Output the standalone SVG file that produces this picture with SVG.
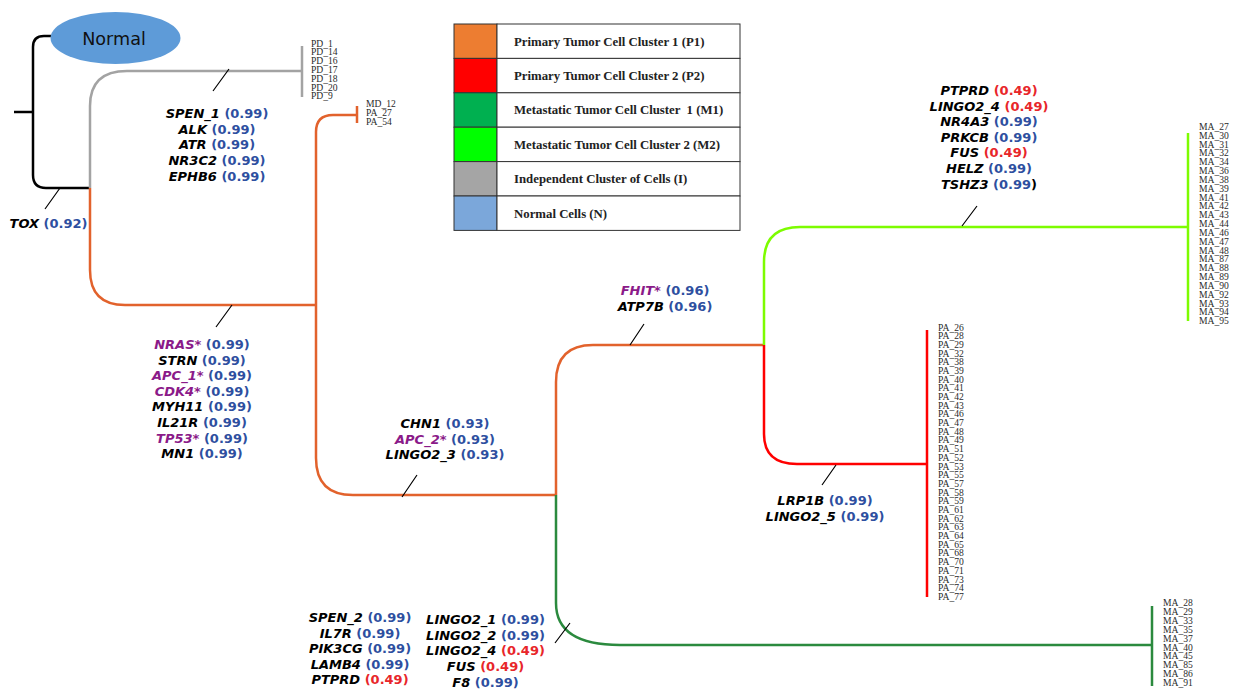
<svg xmlns="http://www.w3.org/2000/svg" width="1233" height="689" viewBox="0 0 1233 689">
<style>
.br{fill:none;stroke-width:2.5;stroke-linecap:butt}
.k{stroke:#000}.gy{stroke:#a3a3a3}.or{stroke:#e2622c}.rd{stroke:#ff0000}.lg{stroke:#7dfc00}.dg{stroke:#2b8a3e}
.tk{stroke:#000;stroke-width:1.2}
.lab{font-family:"DejaVu Sans",sans-serif;font-size:13px;font-weight:bold;text-anchor:middle}
.g{font-style:italic;fill:#000}.p{font-style:italic;fill:#8b1a89}.b{fill:#2e4fa0}.r{fill:#e8262a}
.leaf{font-family:"Liberation Serif",serif;font-size:9.6px;fill:#2a2a2a}
.lgt{font-family:"Liberation Serif",serif;font-size:12.8px;font-weight:bold;fill:#222}
.cell{stroke:#333;stroke-width:1}
</style>
<rect width="1233" height="689" fill="#fff"/>
<g id="connectors">
<path class="br k" d="M14,112 H33"/>
<path class="br k" d="M51,36 H44 Q33,36 33,47 V175 Q33,188 46,188 H90"/>
<path class="br gy" d="M90,188 V106 Q90,71 127,71 H302"/>
<path class="br or" d="M90,188 V270 Q90,305 125,305 H316"/>
<path class="br or" d="M316,305 V132 Q316,115 333,115 H357"/>
<path class="br or" d="M316,305 V458 Q316,495 353,495 H556"/>
<path class="br or" d="M556,495 V382 Q556,345 593,345 H764"/>
<path class="br dg" d="M556,495 V603 C556,630 575,645 620,645 H1152"/>
<path class="br lg" d="M764,345 V262 Q764,227 800,227 H1188"/>
<path class="br rd" d="M764,345 V434 Q764,464 797,464 H927"/>
<path class="tk" d="M45,209 L60,188 M213,91 L229,69 M216,327 L232,305 M402,497 L417,475 M555,643 L570,623 M630,345 L644,324 M822,485 L836,465 M962,226 L977,206"/>
</g>
<g id="node-normal">
<ellipse cx="115.5" cy="38" rx="65" ry="26" fill="#5e9bd8"/>
<text x="114" y="45" font-family="DejaVu Sans,sans-serif" font-size="17.6" fill="#111" text-anchor="middle">Normal</text>
</g>
<g id="node-PD">
<path class="br gy" d="M302,46 V97"/>
<text class="leaf" x="311"><tspan x="311" y="46.5">PD_1</tspan><tspan x="311" y="55.3">PD_14</tspan><tspan x="311" y="64.1">PD_16</tspan><tspan x="311" y="72.9">PD_17</tspan><tspan x="311" y="81.7">PD_18</tspan><tspan x="311" y="90.5">PD_20</tspan><tspan x="311" y="99.3">PD_9</tspan></text>
</g>
<g id="node-MD">
<path class="br or" d="M357,106 V123"/>
<text class="leaf"><tspan x="366" y="106.5">MD_12</tspan><tspan x="366" y="115.5">PA_27</tspan><tspan x="366" y="124.5">PA_54</tspan></text>
</g>
<g id="node-MA-top">
<path class="br lg" d="M1188,133 V321"/>
<text class="leaf"><tspan x="1199" y="130">MA_27</tspan><tspan x="1199" y="138.83">MA_30</tspan><tspan x="1199" y="147.66">MA_31</tspan><tspan x="1199" y="156.49">MA_32</tspan><tspan x="1199" y="165.32">MA_34</tspan><tspan x="1199" y="174.15">MA_36</tspan><tspan x="1199" y="182.98">MA_38</tspan><tspan x="1199" y="191.81">MA_39</tspan><tspan x="1199" y="200.64">MA_41</tspan><tspan x="1199" y="209.47">MA_42</tspan><tspan x="1199" y="218.3">MA_43</tspan><tspan x="1199" y="227.13">MA_44</tspan><tspan x="1199" y="235.96">MA_46</tspan><tspan x="1199" y="244.79">MA_47</tspan><tspan x="1199" y="253.62">MA_48</tspan><tspan x="1199" y="262.45">MA_87</tspan><tspan x="1199" y="271.28">MA_88</tspan><tspan x="1199" y="280.11">MA_89</tspan><tspan x="1199" y="288.94">MA_90</tspan><tspan x="1199" y="297.77">MA_92</tspan><tspan x="1199" y="306.6">MA_93</tspan><tspan x="1199" y="315.43">MA_94</tspan><tspan x="1199" y="324.26">MA_95</tspan></text>
</g>
<g id="node-PA">
<path class="br rd" d="M927,330 V597"/>
<text class="leaf"><tspan x="938" y="330.5">PA_26</tspan><tspan x="938" y="339.19">PA_28</tspan><tspan x="938" y="347.88">PA_29</tspan><tspan x="938" y="356.57">PA_32</tspan><tspan x="938" y="365.26">PA_38</tspan><tspan x="938" y="373.95">PA_39</tspan><tspan x="938" y="382.64">PA_40</tspan><tspan x="938" y="391.33">PA_41</tspan><tspan x="938" y="400.02">PA_42</tspan><tspan x="938" y="408.71">PA_43</tspan><tspan x="938" y="417.4">PA_46</tspan><tspan x="938" y="426.09">PA_47</tspan><tspan x="938" y="434.78">PA_48</tspan><tspan x="938" y="443.47">PA_49</tspan><tspan x="938" y="452.16">PA_51</tspan><tspan x="938" y="460.85">PA_52</tspan><tspan x="938" y="469.54">PA_53</tspan><tspan x="938" y="478.23">PA_55</tspan><tspan x="938" y="486.92">PA_57</tspan><tspan x="938" y="495.61">PA_58</tspan><tspan x="938" y="504.3">PA_59</tspan><tspan x="938" y="512.99">PA_61</tspan><tspan x="938" y="521.68">PA_62</tspan><tspan x="938" y="530.37">PA_63</tspan><tspan x="938" y="539.06">PA_64</tspan><tspan x="938" y="547.75">PA_65</tspan><tspan x="938" y="556.44">PA_68</tspan><tspan x="938" y="565.13">PA_70</tspan><tspan x="938" y="573.82">PA_71</tspan><tspan x="938" y="582.51">PA_73</tspan><tspan x="938" y="591.2">PA_74</tspan><tspan x="938" y="599.89">PA_77</tspan></text>
</g>
<g id="node-MA-bottom">
<path class="br dg" d="M1152,606 V686"/>
<text class="leaf"><tspan x="1163" y="606">MA_28</tspan><tspan x="1163" y="614.9">MA_29</tspan><tspan x="1163" y="623.8">MA_33</tspan><tspan x="1163" y="632.7">MA_35</tspan><tspan x="1163" y="641.6">MA_37</tspan><tspan x="1163" y="650.5">MA_40</tspan><tspan x="1163" y="659.4">MA_45</tspan><tspan x="1163" y="668.3">MA_85</tspan><tspan x="1163" y="677.2">MA_86</tspan><tspan x="1163" y="686.1">MA_91</tspan></text>
</g>
<g id="label-TOX">
<text class="lab" x="48.5" y="228"><tspan class="g">TOX</tspan><tspan class="b"> (0.92)</tspan></text>
</g>
<g id="label-SPEN1">
<text class="lab" x="217" y="118"><tspan class="g">SPEN_1</tspan><tspan class="b"> (0.99)</tspan></text>
<text class="lab" x="217" y="133.7"><tspan class="g">ALK</tspan><tspan class="b"> (0.99)</tspan></text>
<text class="lab" x="217" y="149.4"><tspan class="g">ATR</tspan><tspan class="b"> (0.99)</tspan></text>
<text class="lab" x="217" y="165.1"><tspan class="g">NR3C2</tspan><tspan class="b"> (0.99)</tspan></text>
<text class="lab" x="217" y="180.8"><tspan class="g">EPHB6</tspan><tspan class="b"> (0.99)</tspan></text>
</g>
<g id="label-NRAS">
<text class="lab" x="202" y="349"><tspan class="p">NRAS*</tspan><tspan class="b"> (0.99)</tspan></text>
<text class="lab" x="202" y="364.6"><tspan class="g">STRN</tspan><tspan class="b"> (0.99)</tspan></text>
<text class="lab" x="202" y="380.2"><tspan class="p">APC_1*</tspan><tspan class="b"> (0.99)</tspan></text>
<text class="lab" x="202" y="395.8"><tspan class="p">CDK4*</tspan><tspan class="b"> (0.99)</tspan></text>
<text class="lab" x="202" y="411.4"><tspan class="g">MYH11</tspan><tspan class="b"> (0.99)</tspan></text>
<text class="lab" x="202" y="427"><tspan class="g">IL21R</tspan><tspan class="b"> (0.99)</tspan></text>
<text class="lab" x="202" y="442.6"><tspan class="p">TP53*</tspan><tspan class="b"> (0.99)</tspan></text>
<text class="lab" x="202" y="458.2"><tspan class="g">MN1</tspan><tspan class="b"> (0.99)</tspan></text>
</g>
<g id="label-CHN1">
<text class="lab" x="445" y="428"><tspan class="g">CHN1</tspan><tspan class="b"> (0.93)</tspan></text>
<text class="lab" x="445" y="443.6"><tspan class="p">APC_2*</tspan><tspan class="b"> (0.93)</tspan></text>
<text class="lab" x="445" y="459.2"><tspan class="g">LINGO2_3</tspan><tspan class="b"> (0.93)</tspan></text>
</g>
<g id="label-FHIT">
<text class="lab" x="665" y="295"><tspan class="p">FHIT*</tspan><tspan class="b"> (0.96)</tspan></text>
<text class="lab" x="665" y="310.6"><tspan class="g">ATP7B</tspan><tspan class="b"> (0.96)</tspan></text>
</g>
<g id="label-LRP1B">
<text class="lab" x="825" y="505"><tspan class="g">LRP1B</tspan><tspan class="b"> (0.99)</tspan></text>
<text class="lab" x="825" y="520.6"><tspan class="g">LINGO2_5</tspan><tspan class="b"> (0.99)</tspan></text>
</g>
<g id="label-PTPRD-top">
<text class="lab" x="989" y="95"><tspan class="g">PTPRD</tspan><tspan class="r"> (0.49)</tspan></text>
<text class="lab" x="989" y="110.6"><tspan class="g">LINGO2_4</tspan><tspan class="r"> (0.49)</tspan></text>
<text class="lab" x="989" y="126.2"><tspan class="g">NR4A3</tspan><tspan class="b"> (0.99)</tspan></text>
<text class="lab" x="989" y="141.8"><tspan class="g">PRKCB</tspan><tspan class="b"> (0.99)</tspan></text>
<text class="lab" x="989" y="157.4"><tspan class="g">FUS</tspan><tspan class="r"> (0.49)</tspan></text>
<text class="lab" x="989" y="173"><tspan class="g">HELZ</tspan><tspan class="b"> (0.99)</tspan></text>
<text class="lab" x="989" y="188.6"><tspan class="g">TSHZ3</tspan><tspan class="b"> (0.99</tspan><tspan fill="#000">)</tspan></text>
</g>
<g id="label-SPEN2">
<text class="lab" x="360" y="622"><tspan class="g">SPEN_2</tspan><tspan class="b"> (0.99)</tspan></text>
<text class="lab" x="360" y="637.5"><tspan class="g">IL7R</tspan><tspan class="b"> (0.99)</tspan></text>
<text class="lab" x="360" y="653"><tspan class="g">PIK3CG</tspan><tspan class="b"> (0.99)</tspan></text>
<text class="lab" x="360" y="668.5"><tspan class="g">LAMB4</tspan><tspan class="b"> (0.99)</tspan></text>
<text class="lab" x="360" y="684"><tspan class="g">PTPRD</tspan><tspan class="r"> (0.49)</tspan></text>
</g>
<g id="label-LINGO2-1">
<text class="lab" x="485.5" y="624"><tspan class="g">LINGO2_1</tspan><tspan class="b"> (0.99)</tspan></text>
<text class="lab" x="485.5" y="639.7"><tspan class="g">LINGO2_2</tspan><tspan class="b"> (0.99)</tspan></text>
<text class="lab" x="485.5" y="655.4"><tspan class="g">LINGO2_4</tspan><tspan class="r"> (0.49)</tspan></text>
<text class="lab" x="485.5" y="671.1"><tspan class="g">FUS</tspan><tspan class="r"> (0.49)</tspan></text>
<text class="lab" x="485.5" y="686.8"><tspan class="g">F8</tspan><tspan class="b"> (0.99)</tspan></text>
</g>
<g id="legend">
<rect class="cell" x="454" y="24" width="43" height="34.4" fill="#ed7d31"/>
<rect class="cell" x="454" y="58.4" width="43" height="34.4" fill="#ff0000"/>
<rect class="cell" x="454" y="92.8" width="43" height="34.4" fill="#00b050"/>
<rect class="cell" x="454" y="127.2" width="43" height="34.4" fill="#00ff00"/>
<rect class="cell" x="454" y="161.6" width="43" height="34.4" fill="#a5a5a5"/>
<rect class="cell" x="454" y="196" width="43" height="34.4" fill="#7ba7da"/>
<rect class="cell" x="497" y="24" width="243" height="34.4" fill="#fff"/>
<rect class="cell" x="497" y="58.4" width="243" height="34.4" fill="#fff"/>
<rect class="cell" x="497" y="92.8" width="243" height="34.4" fill="#fff"/>
<rect class="cell" x="497" y="127.2" width="243" height="34.4" fill="#fff"/>
<rect class="cell" x="497" y="161.6" width="243" height="34.4" fill="#fff"/>
<rect class="cell" x="497" y="196" width="243" height="34.4" fill="#fff"/>
<text class="lgt" x="514" y="45.6">Primary Tumor Cell Cluster 1 (P1)</text>
<text class="lgt" x="514" y="80">Primary Tumor Cell Cluster 2 (P2)</text>
<text class="lgt" x="514" y="114.4" xml:space="preserve">Metastatic Tumor Cell Cluster  1 (M1)</text>
<text class="lgt" x="514" y="148.8">Metastatic Tumor Cell Cluster 2 (M2)</text>
<text class="lgt" x="514" y="183.2">Independent Cluster of Cells (I)</text>
<text class="lgt" x="514" y="217.6">Normal Cells (N)</text>
</g>
</svg>
